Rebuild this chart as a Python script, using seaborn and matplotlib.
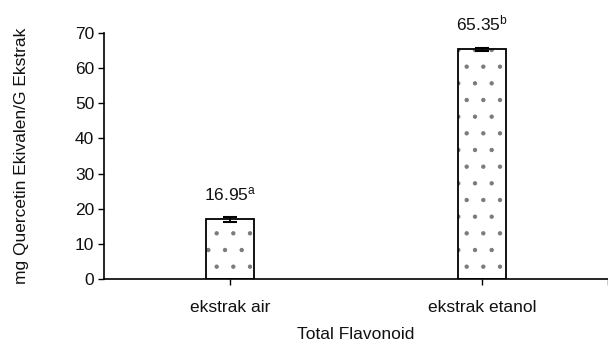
import matplotlib
matplotlib.use("Agg")
import matplotlib.pyplot as plt
import seaborn as sns
import pandas as pd

categories = ["ekstrak air", "ekstrak etanol"]
values = [16.95, 65.35]
errors = [0.6, 0.5]
letters = ["a", "b"]
y_ticks = [0, 10, 20, 30, 40, 50, 60, 70]

sns.set_theme(style="ticks")
plt.rcParams["font.family"] = ["Liberation Sans", "DejaVu Sans"]
plt.rcParams["mathtext.fontset"] = "custom"
plt.rcParams["mathtext.rm"] = "Liberation Sans"
plt.rcParams["mathtext.it"] = "Liberation Sans"
plt.rcParams["hatch.linewidth"] = 0.7

FS = 12.5
TXT = "#111111"

df = pd.DataFrame({"kategori": categories, "nilai": values})

fig = plt.figure(figsize=(6.08, 3.44), dpi=100)
ax = fig.add_axes([0.171, 0.189, 0.829, 0.715])

# dotted fill, drawn without outline so the hatch keeps its grey colour
sns.barplot(data=df, x="kategori", y="nilai", ax=ax, width=0.19,
            color="white", hatch=".", edgecolor="#7a7a7a", linewidth=0,
            errorbar=None)
# black outline on top
sns.barplot(data=df, x="kategori", y="nilai", ax=ax, width=0.19,
            fill=False, edgecolor="black", linewidth=1.3, errorbar=None)

ax.errorbar(range(len(values)), values, yerr=errors, fmt="none",
            ecolor="black", elinewidth=1.3, capsize=5, capthick=1.5)

for i, (v, e, l) in enumerate(zip(values, errors, letters)):
    ax.annotate(f"{v:.2f}$^{{{l}}}$", (i, v + e), xytext=(0, 10),
                textcoords="offset points", ha="center", va="bottom",
                fontsize=FS, color=TXT)

ax.set_ylim(0, 70)
ax.set_xlim(-0.5, 1.5)
ax.set_yticks(y_ticks)
ax.set_xticks([0, 1], categories)
ax.set_xticks([1.5], minor=True)
ax.tick_params(axis="both", which="both", direction="out", length=4,
               width=1.0, color="black", labelsize=FS, labelcolor=TXT,
               pad=3)
ax.tick_params(axis="x", pad=11)
ax.set_xlabel("Total Flavonoid", fontsize=FS, color=TXT, labelpad=9)
ax.set_ylabel("mg Quercetin Ekivalen/G Ekstrak", fontsize=FS,
              color=TXT, labelpad=33)

for side in ("top", "right"):
    ax.spines[side].set_visible(False)
for side in ("left", "bottom"):
    ax.spines[side].set_color("black")
    ax.spines[side].set_linewidth(1.2)

fig.savefig("out.png", dpi=100, facecolor="white")
